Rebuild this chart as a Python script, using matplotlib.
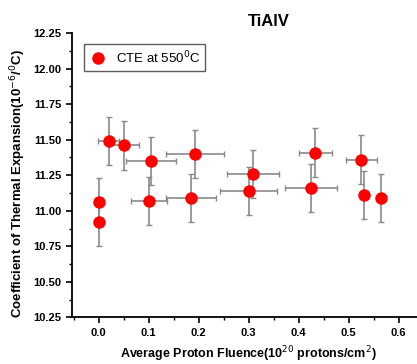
import matplotlib
matplotlib.use("Agg")
import matplotlib.pyplot as plt
from matplotlib.ticker import MultipleLocator, FormatStrFormatter

fluence = [0.0, 0.0, 0.02, 0.05, 0.105, 0.192, 0.10, 0.185, 0.309, 0.30, 0.433, 0.425, 0.525, 0.53, 0.565]
cte = [11.06, 10.92, 11.49, 11.46, 11.35, 11.40, 11.07, 11.09, 11.26, 11.14, 11.41, 11.16, 11.36, 11.11, 11.09]
xerr = [0.0, 0.0, 0.021, 0.031, 0.05, 0.058, 0.036, 0.05, 0.052, 0.057, 0.033, 0.052, 0.031, 0.0, 0.0]
yerr = [0.17] * 15

plt.rcParams['font.family'] = ['Liberation Sans', 'DejaVu Sans']

fig = plt.figure(figsize=(4.17, 3.64), dpi=100)
ax = fig.add_axes([0.1727, 0.128, 0.8273, 0.781])

ax.errorbar(fluence, cte, xerr=xerr, yerr=yerr, fmt='none', ecolor='#8a8a8a',
            elinewidth=1.2, capsize=2.2, capthick=1.0, zorder=2)
ax.plot(fluence, cte, 'o', color='#ff0000', markersize=9, markeredgewidth=0,
        zorder=3, label='CTE at 550$^{0}$C')

ax.set_xlim(-0.053, 0.637)
ax.set_ylim(10.25, 12.25)
ax.xaxis.set_major_locator(MultipleLocator(0.1))
ax.xaxis.set_minor_locator(MultipleLocator(0.05))
ax.yaxis.set_major_locator(MultipleLocator(0.25))
ax.yaxis.set_minor_locator(MultipleLocator(0.125))
ax.xaxis.set_major_formatter(FormatStrFormatter('%.1f'))
ax.yaxis.set_major_formatter(FormatStrFormatter('%.2f'))

for s in ['top', 'right']:
    ax.spines[s].set_visible(False)
for s in ['left', 'bottom']:
    ax.spines[s].set_linewidth(1.3)

ax.tick_params(axis='both', which='major', direction='out', length=4, width=1.2,
               labelsize=8)
ax.tick_params(axis='both', which='minor', direction='out', length=2.5, width=1.0)
for lbl in ax.get_xticklabels() + ax.get_yticklabels():
    lbl.set_fontweight('bold')

ax.set_xlabel('Average Proton Fluence(10$^{20}$ protons/cm$^{2}$)', fontsize=9,
              fontweight='bold')
ax.xaxis.set_label_coords(0.512, -0.094)
ax.set_ylabel('Coefficient of Thermal Expansion(10$^{-6}$/$^{0}$C)', fontsize=9.5,
              fontweight='bold')
ax.yaxis.set_label_coords(-0.128, 0.47)
ax.text(0.571, 1.0246, 'TiAlV', transform=ax.transAxes, fontsize=12,
        fontweight='bold', ha='center', va='baseline')

leg = ax.legend(loc='upper left', bbox_to_anchor=(0.035, 0.961), fontsize=9.5,
                frameon=True, fancybox=False, edgecolor='#333333', borderpad=0.4,
                borderaxespad=0, handletextpad=0.7, handlelength=1.3)
leg.get_frame().set_linewidth(1.0)

fig.savefig('out.png', dpi=100)
